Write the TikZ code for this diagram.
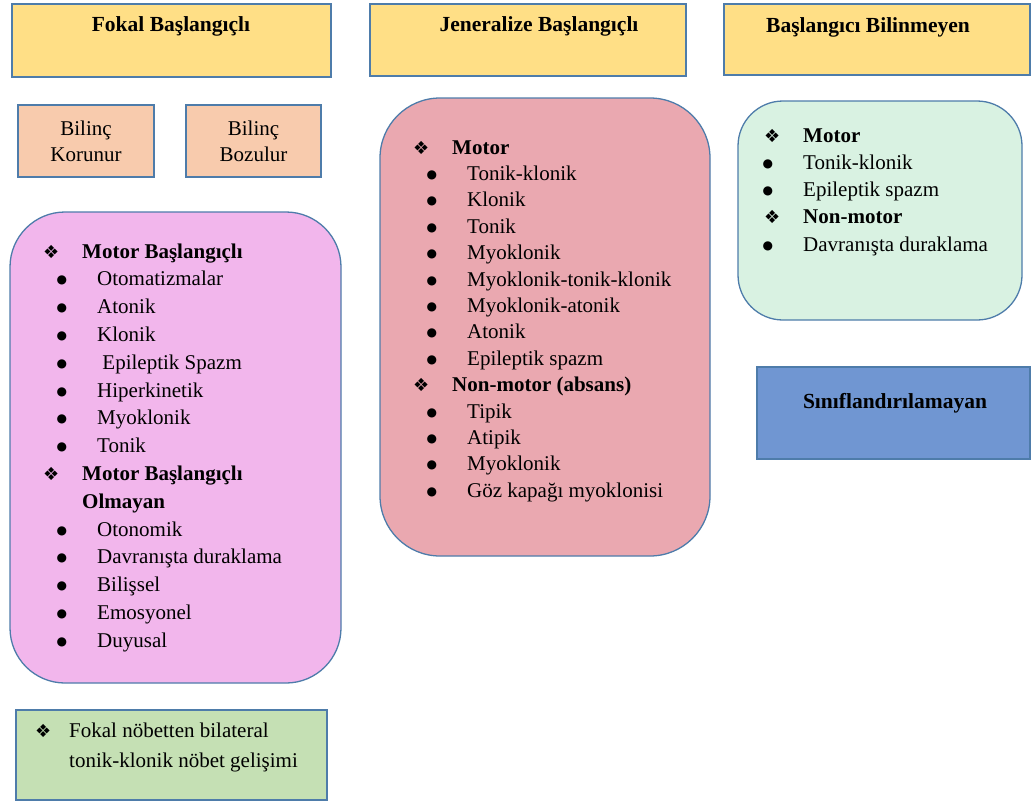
\documentclass[tikz,border=0pt]{standalone}
\usepackage{fontspec}
\setmainfont{Liberation Serif}
\newfontfamily\dejavu{DejaVu Sans}
\definecolor{edge}{RGB}{78,124,170}
\definecolor{gold}{RGB}{255,223,134}
\definecolor{salmon}{RGB}{248,203,173}
\definecolor{orchid}{RGB}{242,182,236}
\definecolor{rose}{RGB}{234,168,176}
\definecolor{mint}{RGB}{217,242,226}
\definecolor{steel}{RGB}{112,150,210}
\definecolor{sage}{RGB}{197,224,180}
\newcommand{\diam}{\smash{\normalfont\dejavu\fontsize{18}{18}\selectfont ❖}}
\newcommand{\bigdot}{\smash{\raisebox{2pt}{\dejavu\fontsize{12}{12}\selectfont ●}}}
\tikzset{
  box/.style={draw=edge, line width=1.3pt, inner sep=0pt},
  body/.style={inner sep=0pt, font=\fontsize{21}{26}\selectfont},
  linebase/.style={body, anchor=base west},
  lineh/.style={linebase, font=\fontsize{21}{26}\selectfont\bfseries,
    execute at begin node={\llap{\diam\hspace{23pt}}}},
  linec/.style={linebase, font=\fontsize{21}{26}\selectfont\bfseries},
  lineb/.style={linebase, execute at begin node={\llap{\bigdot\hspace{30pt}}}},
  title/.style={inner sep=0pt, font=\fontsize{21.5}{26}\selectfont\bfseries}
}

\begin{document}
\begin{tikzpicture}[x=1pt, y=-1pt]
	\useasboundingbox (0,0) rectangle (1032,801);
	% onset headers
	\node[box, fill=gold, minimum width=319pt, minimum height=73pt] (fokal) at (171.5,40.5) {};
	\node[box, fill=gold, minimum width=316pt, minimum height=72pt] (jenel) at (528,40) {};
	\node[box, fill=gold, minimum width=306pt, minimum height=71pt] (bilinm) at (877,39.5) {};
	\node[title] (fokalt) at (171,26) {Fokal Başlangıçlı};
	\node[title] (jenelt) at (539,26) {Jeneralize Başlangıçlı};
	\node[title] (bilinmt) at (868,27) {Başlangıcı Bilinmeyen};
	% awareness
	\node[box, body, fill=salmon, minimum width=136pt, minimum height=72pt, align=center] (korunur) at (86,141) {Bilinç\\Korunur};
	\node[box, body, fill=salmon, minimum width=135pt, minimum height=72pt, align=center] (bozulur) at (253.5,141) {Bilinç\\Bozulur};
	% rounded panels
	\node[box, fill=orchid, rounded corners=55pt, minimum width=331pt, minimum height=471pt] (fokalbox) at (175.5,447.5) {};
	\node[box, fill=rose, rounded corners=60pt, minimum width=330pt, minimum height=458pt] (jenelbox) at (545,327) {};
	\node[box, fill=mint, rounded corners=45pt, minimum width=284pt, minimum height=219pt] (bilinmbox) at (880,210.5) {};
	% focal list
	\scope[lineb/.append style={xshift=15pt}]
		\foreach \k/\txt [count=\i] in {h/Motor Başlangıçlı, b/Otomatizmalar, b/Atonik, b/Klonik, b/{\ Epileptik Spazm}, b/Hiperkinetik, b/Myoklonik, b/Tonik, h/Motor Başlangıçlı, c/Olmayan, b/Otonomik, b/Davranışta duraklama, b/Bilişsel, b/Emosyonel, b/Duyusal}
			\node[line\k] (fok\i) at (82,258+27.8*\i-27.8) {\txt};
	\endscope
	% generalized list
	\scope[lineb/.append style={xshift=15pt}]
		\foreach \k/\txt [count=\i] in {h/Motor, b/Tonik-klonik, b/Klonik, b/Tonik, b/Myoklonik, b/Myoklonik-tonik-klonik, b/Myoklonik-atonik, b/Atonik, b/Epileptik spazm, h/Non-motor (absans), b/Tipik, b/Atipik, b/Myoklonik, b/Göz kapağı myoklonisi}
			\node[line\k] (jen\i) at (452,154+26.4*\i-26.4) {\txt};
	\endscope
	% unknown list
	\foreach \k/\txt [count=\i] in {h/Motor, b/Tonik-klonik, b/Epileptik spazm, h/Non-motor, b/Davranışta duraklama}
		\node[line\k] (bil\i) at (803,142+27.25*\i-27.25) {\txt};
	% unclassified
	\node[box, fill=steel, minimum width=273pt, minimum height=92pt] (sinif) at (893.5,413) {};
	\node[title] (sinift) at (895,403) {Sınıflandırılamayan};
	% focal to bilateral
	\node[box, fill=sage, minimum width=311pt, minimum height=90pt] (bilat) at (171.5,755) {};
	\node[linebase] (bilat1) at (69,737) {\llap{\diam\hspace{18pt}}Fokal nöbetten bilateral};
	\node[linebase] (bilat2) at (69,767) {tonik-klonik nöbet gelişimi};
\end{tikzpicture}
\end{document}
